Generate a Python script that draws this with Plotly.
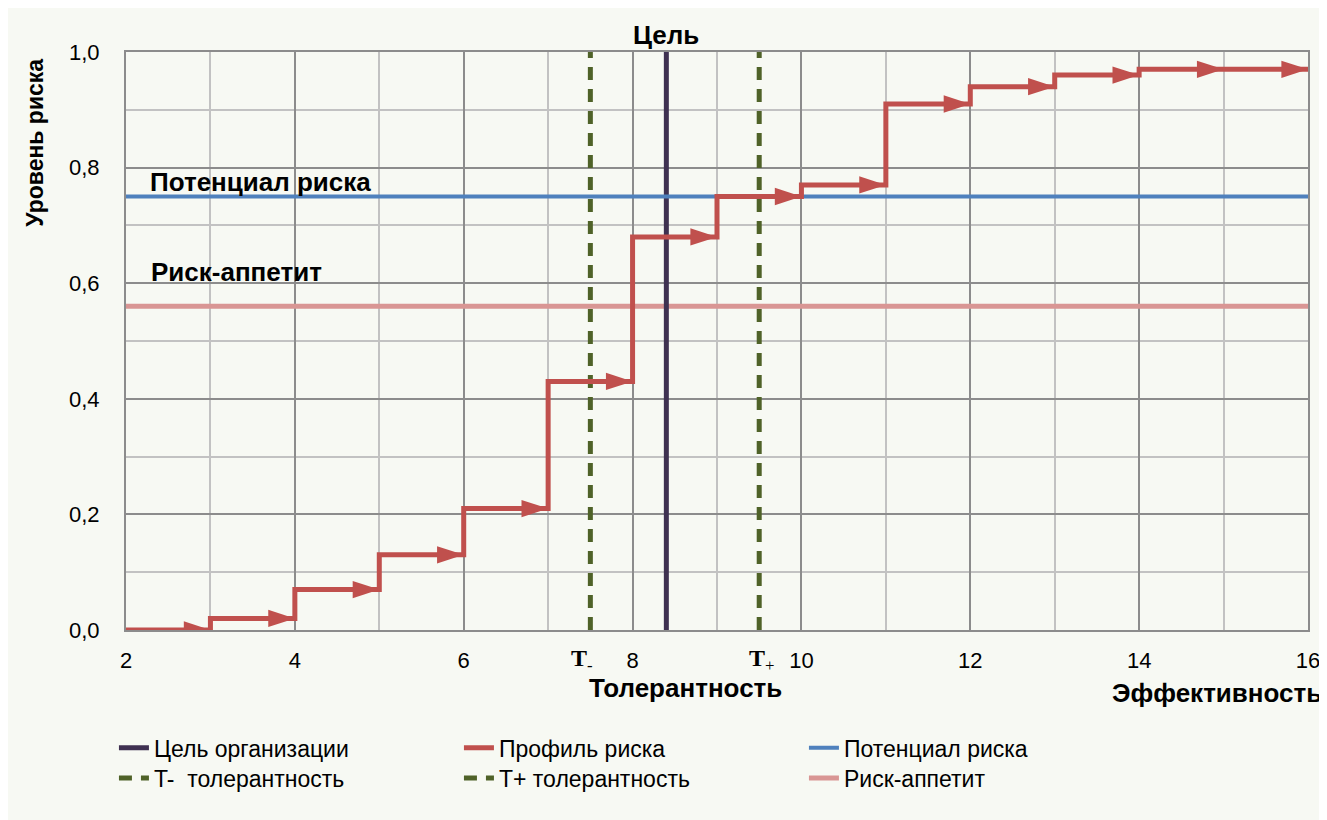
import plotly.graph_objects as go

# ---- data ----
step_x = [2, 3, 4, 5, 6, 7, 8, 9, 10, 11, 12, 13, 14, 15, 16]
step_y = [0.0, 0.02, 0.07, 0.13, 0.21, 0.43, 0.68, 0.75, 0.77, 0.91, 0.94, 0.96, 0.97, 0.97]
goal_x = 8.4
t_minus_x = 7.5
t_plus_x = 9.5
potential_y = 0.75
appetite_y = 0.56
x_ticks = [2, 4, 6, 8, 10, 12, 14, 16]
y_ticks = [0.0, 0.2, 0.4, 0.6, 0.8, 1.0]
y_ticktext = ["0,0", "0,2", "0,4", "0,6", "0,8", "1,0"]

RED = "#c0504d"
BLUE = "#4f81bd"
PINK = "#d99694"
GREEN = "#4f6228"
PURPLE = "#3f3151"
BG = "#f7f9f3"
FONT = "Liberation Sans"

# step path
px, py = [], []
for i, v in enumerate(step_y):
    px += [step_x[i], step_x[i + 1]]
    py += [v, v]
arrow_x = step_x[1:]
arrow_y = step_y

fig = go.Figure()
fig.add_trace(go.Scatter(x=[step_x[0], step_x[-1]], y=[appetite_y, appetite_y], mode="lines",
                         line=dict(color=PINK, width=5), name="Риск-аппетит",
                         legend="legend2", legendrank=3))
fig.add_trace(go.Scatter(x=[t_minus_x, t_minus_x], y=[0, 1], mode="lines",
                         line=dict(color=GREEN, width=5, dash="13px,9px"), name="T-  толерантность",
                         legend="legend2", legendrank=1))
fig.add_trace(go.Scatter(x=[t_plus_x, t_plus_x], y=[0, 1], mode="lines",
                         line=dict(color=GREEN, width=5, dash="13px,9px"), name="T+ толерантность",
                         legend="legend2", legendrank=2))
fig.add_trace(go.Scatter(x=[goal_x, goal_x], y=[0, 1], mode="lines",
                         line=dict(color=PURPLE, width=5), name="Цель организации",
                         legend="legend", legendrank=1))
fig.add_trace(go.Scatter(x=[step_x[0], step_x[-1]], y=[potential_y, potential_y], mode="lines",
                         line=dict(color=BLUE, width=4), name="Потенциал риска",
                         legend="legend", legendrank=3))
fig.add_trace(go.Scatter(x=px, y=py, mode="lines",
                         line=dict(color=RED, width=5), name="Профиль риска",
                         legend="legend", legendrank=2))
fig.add_trace(go.Scatter(x=arrow_x, y=arrow_y, mode="markers", showlegend=False,
                         marker=dict(symbol="arrow", angle=90, size=28, color=RED,
                                     line=dict(width=0)),
                         hoverinfo="skip"))

bold = dict(family=FONT, size=26, color="black")
tfont = dict(family="Liberation Serif", size=24, color="black")
annotations = [
    dict(x=goal_x, y=1.0, xref="x", yref="paper", yanchor="bottom", yshift=0,
         text="<b>Цель</b>", showarrow=False, font=bold),
    dict(x=2.26, y=potential_y, xref="x", yref="y", xanchor="left", yanchor="bottom",
         yshift=-2, text="<b>Потенциал риска</b>", showarrow=False, font=bold),
    dict(x=2.27, y=0.62, xref="x", yref="y", xanchor="left", yanchor="middle",
         text="<b>Риск-аппетит</b>", showarrow=False, font=bold),
    dict(x=8.63, y=-0.10, xref="x", yref="paper", xanchor="center", yanchor="middle",
         text="<b>Толерантность</b>", showarrow=False, font=bold),
    dict(x=13.65, y=-0.109, xref="x", yref="paper", xanchor="left", yanchor="middle",
         text="<b>Эффективность</b>", showarrow=False, font=bold),
    dict(x=-0.077, y=0.843, xref="paper", yref="paper", xanchor="center", yanchor="middle",
         textangle=-90, text="<b>Уровень риска</b>", showarrow=False,
         font=dict(family=FONT, size=23, color="black")),
    dict(x=t_minus_x, y=-0.052, xref="x", yref="paper", xanchor="center", yanchor="middle",
         xshift=-8, text="<b>T</b><sub>-</sub>", showarrow=False, font=tfont),
    dict(x=t_plus_x, y=-0.052, xref="x", yref="paper", xanchor="center", yanchor="middle",
         xshift=2, text="<b>T</b><sub>+</sub>", showarrow=False, font=tfont),
]

legend_common = dict(orientation="h", font=dict(family=FONT, size=23, color="black"),
                     bgcolor="rgba(0,0,0,0)", entrywidth=300, entrywidthmode="pixels",
                     xanchor="left", yanchor="middle", itemclick=False, tracegroupgap=0,
                     traceorder="normal")

fig.update_layout(
    width=1327, height=820,
    margin=dict(l=118, r=27, t=44, b=198),
    paper_bgcolor=BG, plot_bgcolor=BG,
    font=dict(family=FONT, size=22, color="black"),
    annotations=annotations,
    legend=dict(x=-0.0102, y=-0.204, **legend_common),
    legend2=dict(x=-0.0102, y=-0.256, **legend_common),
    xaxis=dict(range=[2, 16], tickvals=x_ticks, showgrid=True, gridcolor="#8c8c8c",
               gridwidth=1.5, minor=dict(dtick=1, showgrid=True, gridcolor="#c2c2c2", gridwidth=1.5),
               showline=True, linecolor="#8c8c8c", linewidth=2, mirror=True,
               ticks="", ticklabelstandoff=10, zeroline=False,
               tickfont=dict(family=FONT, size=22, color="black")),
    yaxis=dict(range=[0, 1], tickvals=y_ticks, ticktext=y_ticktext, showgrid=True,
               gridcolor="#8c8c8c", gridwidth=1.5,
               minor=dict(dtick=0.1, showgrid=True, gridcolor="#c2c2c2", gridwidth=1.5),
               showline=True, linecolor="#8c8c8c", linewidth=2, mirror=True,
               ticks="", ticklabelstandoff=20, zeroline=False,
               tickfont=dict(family=FONT, size=22, color="black")),
)

fig.write_html("out.html")
